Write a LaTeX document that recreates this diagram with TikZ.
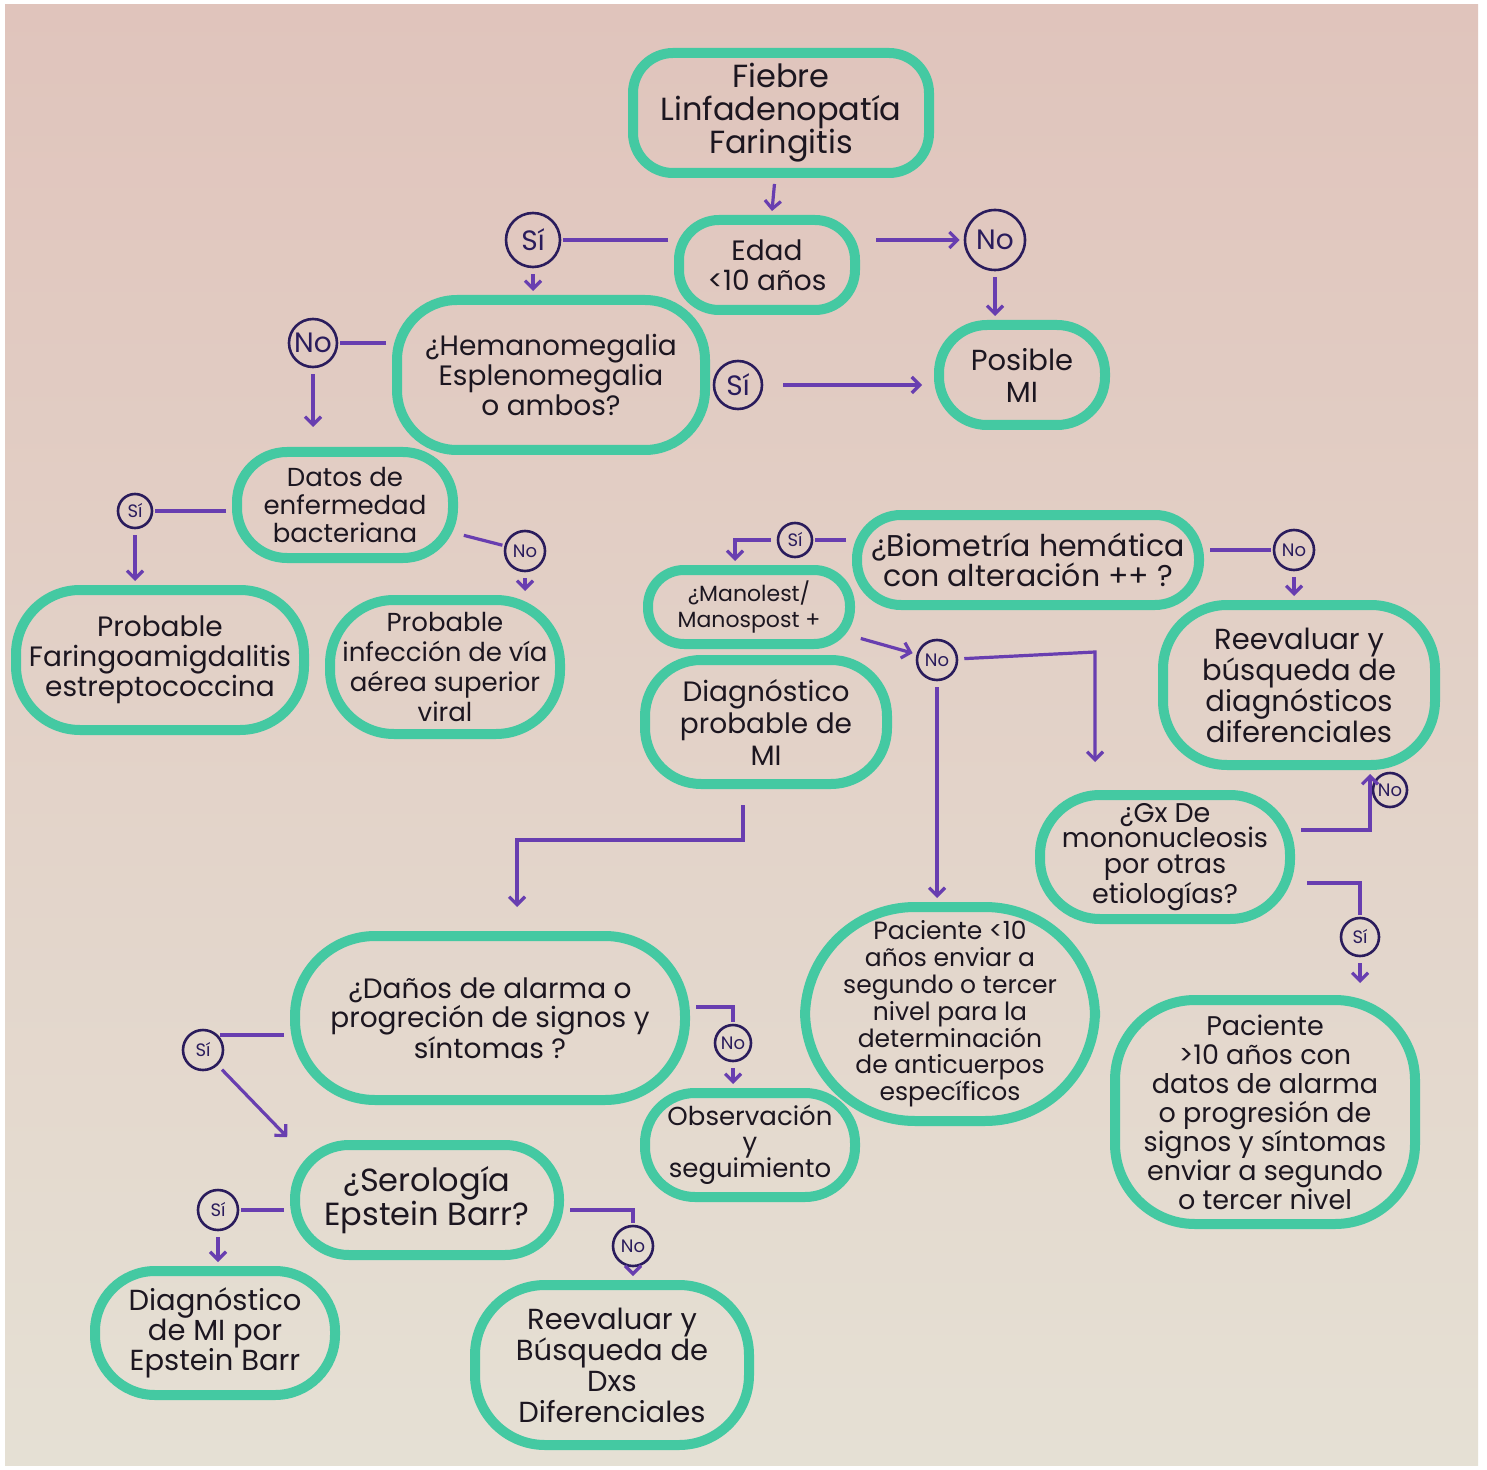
\documentclass[tikz,border=0pt]{standalone}
\usepackage{fontspec}
\setmainfont{Poppins}
\usepackage{tikz}
\usetikzlibrary{arrows.meta, positioning}

\definecolor{boxgreen}{RGB}{68,201,162}
\definecolor{ansblue}{RGB}{42,28,92}
\definecolor{arrpurple}{RGB}{104,62,176}
\definecolor{ink}{RGB}{28,22,32}
\definecolor{paperpink}{RGB}{224,196,188}
\definecolor{papermid}{RGB}{240,236,228}
\definecolor{paperlow}{RGB}{229,224,212}

\newcommand{\fs}[2]{\fontsize{#1}{#2}\selectfont}

\tikzset{
  box/.style={draw=boxgreen, line width=5pt, rounded corners=#1, align=center,
    inner sep=3pt, text=ink, font=\fs{14}{15}},
  box/.default=20pt,
  ans/.style={circle, draw=ansblue, line width=1.3pt, inner sep=0pt,
    minimum size=#1, text=ansblue, font=\fs{14}{14}},
  smallans/.style={ans=#1, font=\fs{9}{9}},
  arr/.style={draw=arrpurple, line width=1.6pt, shorten >=2pt, shorten <=3pt,
    -{Straight Barb[length=4pt, width=8pt]}},
  ln/.style={draw=arrpurple, line width=1.6pt, shorten <=3pt, shorten >=1pt}
}

\begin{document}
\begin{tikzpicture}[x=0.5pt, y=-0.5pt]
        \useasboundingbox (0, 0) rectangle (1487, 1470);
        \fill[white] (0, 0) rectangle (1487, 1470);
        \shade[top color=paperpink, middle color=papermid, bottom color=paperlow]
        (5, 5) rectangle (1478, 1465);

        \node[box, minimum width=148pt, minimum height=60pt, font=\fs{16}{16.5}] at (781, 113) (fiebre)
        {Fiebre\\Linfadenopatía\\Faringitis};
        \node[box, minimum width=88pt, minimum height=45pt] at (767, 265) (edad) {Edad\\<10 años};
        \node[ans=27pt] at (533, 240) (si1) {Sí};
        \node[ans=30pt] at (995, 240) (no1) {No};
        \node[box=30pt, minimum width=154pt, minimum height=75pt] at (551, 375) (hema)
        {¿Hemanomegalia\\Esplenomegalia\\o ambos?};
        \node[box=24pt, minimum width=83pt, minimum height=50pt, font=\fs{14.5}{16}] at (1022, 375) (posible)
        {Posible\\MI};
        \node[ans=24pt] at (738, 385) (si2) {Sí};
        \node[ans=24pt] at (313, 343) (no2) {No};

        \node[box=25pt, minimum width=108pt, minimum height=53pt, font=\fs{13}{14}] at (345, 505) (datos)
        {Datos de\\enfermedad\\bacteriana};
        \node[smallans=17pt] at (135, 511) (si3) {Sí};
        \node[smallans=20pt] at (525, 551) (no3) {No};
        \node[box=32pt, minimum width=144pt, minimum height=70pt] at (160, 660) (faringo)
        {Probable\\Faringoamigdalitis\\estreptococcina};
        \node[box=32pt, minimum width=115pt, minimum height=67pt, font=\fs{13}{15}] at (445, 667) (viral)
        {Probable\\infección de vía\\aérea superior\\viral};

        \node[box=22pt, minimum width=171pt, minimum height=45pt, font=\fs{15}{15}] at (1028, 560) (biometria)
        {¿Biometría hemática\\con alteración ++ ?};
        \node[smallans=17pt] at (795, 540) (si4) {Sí};
        \node[smallans=20pt] at (1294, 550) (no4) {No};
        \node[box=18pt, minimum width=101pt, minimum height=37pt, font=\fs{11}{13}] at (749, 607) (monotest)
        {¿Manolest/\\Manospost +};
        \node[smallans=20pt] at (937, 660) (no5) {No};
        \node[box=28pt, minimum width=121pt, minimum height=62pt, font=\fs{14}{16}] at (766, 722) (diagprob)
        {Diagnóstico\\probable de\\MI};
        \node[box=32pt, minimum width=136pt, minimum height=80pt, font=\fs{14.5}{15.5}] at (1299, 685) (reevalA)
        {Reevaluar y\\búsqueda de\\diagnósticos\\diferenciales};
        \node[box=30pt, minimum width=125pt, minimum height=62pt, font=\fs{13.5}{12.8}] at (1165, 857) (gx)
        {¿Gx De\\mononucleosis\\por otras\\etiologías?};
        \node[smallans=17pt] at (1390, 790) (no6) {No};
        \node[smallans=19pt] at (1360, 937) (si5) {Sí};
        \node[box=55pt, minimum width=145pt, minimum height=107pt, font=\fs{12.5}{13.4}] at (950, 1014) (pacA)
        {Paciente <10\\años enviar a\\segundo o tercer\\nivel para la\\determinación\\de anticuerpos\\específicos};
        \node[box=40pt, minimum width=150pt, minimum height=112pt, font=\fs{13.5}{14.5}] at (1265, 1112) (pacB)
        {Paciente\\>10 años con\\datos de alarma\\o progresión de\\signos y síntomas\\enviar a segundo\\o tercer nivel};

        \node[box=40pt, minimum width=195pt, minimum height=82pt, font=\fs{14}{14.5}] at (490, 1018) (danos)
        {¿Daños de alarma o\\progreción de signos y\\síntomas ?};
        \node[smallans=20pt] at (203, 1050) (si6) {Sí};
        \node[smallans=18pt] at (733, 1043) (no7) {No};
        \node[box=25pt, minimum width=105pt, minimum height=52pt, font=\fs{13}{15}] at (750, 1145) (observ)
        {Observación\\[-2pt]y\\[-2pt]seguimiento};
        \node[box=27pt, minimum width=132pt, minimum height=55pt, font=\fs{16}{17}] at (427, 1200) (serologia)
        {¿Serología\\Epstein Barr?};
        \node[smallans=20pt] at (218, 1210) (si7) {Sí};
        \node[smallans=20pt] at (633, 1246) (no8) {No};
        \node[box=30pt, minimum width=120pt, minimum height=62pt, font=\fs{14.5}{15}] at (215, 1333) (diagEB)
        {Diagnóstico\\de MI por\\Epstein Barr};
        \node[box=35pt, minimum width=137pt, minimum height=80pt, font=\fs{14.5}{15.5}] at (612, 1365) (reevalB)
        {Reevaluar y\\Búsqueda de\\Dxs\\Diferenciales};

        \coordinate (c1) at (735, 540);
        \coordinate (c2) at (1095, 652);
        \coordinate (c3) at (743, 840);
        \coordinate (c4) at (517, 840);
        \coordinate (c5) at (1370, 830);
        \coordinate (c6) at (1360, 883);
        \coordinate (c7) at (733, 1007);
        \coordinate (c8) at (633, 1210);

        \draw[arr] (fiebre) to (edad);
        \draw[ln] (si1 -| edad.west) to (si1);
        \draw[arr] (si1) to (si1 |- hema.north);
        \draw[arr, shorten <=8pt] (edad.east |- no1) to (no1);
        \draw[arr] (no1) to (no1 |- posible.north);
        \draw[arr, shorten <=10pt, shorten >=6pt] (si2) to (si2 -| posible.west);
        \draw[ln] (no2 -| hema.west) to (no2);
        \draw[arr, shorten >=10pt] (no2) to (no2 |- datos.north);

        \draw[ln] (si3 -| datos.west) to (si3);
        \draw[arr] (si3) to (si3 |- faringo.north);
        \draw[ln] (datos) to (no3);
        \draw[arr] (no3) to (no3 |- viral.north);

        \draw[ln] (si4 -| biometria.west) to (si4);
        \draw[arr] (si4) to (c1) to (c1 |- monotest.north);
        \draw[ln] (no4 -| biometria.east) to (no4);
        \draw[arr] (no4) to (no4 |- reevalA.north);
        \draw[arr] (monotest) to (no5);
        \draw[arr] (no5) to (no5 |- pacA.north);
        \draw[arr, shorten >=14pt] (no5) to (c2) to (c2 |- gx.north);
        \draw[arr, shorten <=8pt, shorten >=12pt] (diagprob.south -| c3) to (c3) to (c4) to (c4 |- danos.north);
        \draw[arr] (gx.east |- c5) to (c5) to (c5 |- reevalA.south);
        \draw[ln, shorten <=6pt] (gx.east |- c6) to (c6) to (si5);
        \draw[arr, shorten >=6pt] (si5) to (si5 |- pacB.north);

        \draw[ln] (danos.west |- si6.north east) to (si6.north east);
        \draw[arr] (si6) to (serologia.north west);
        \draw[ln] (danos.east |- c7) to (c7) to (no7);
        \draw[arr] (no7) to (no7 |- observ.north);
        \draw[ln] (si7 -| serologia.west) to (si7);
        \draw[arr] (si7) to (si7 |- diagEB.north);
        \draw[ln] (serologia.east |- c8) to (c8) to (no8);
        \draw[arr] (no8) to (no8 |- reevalB.north);
\end{tikzpicture}
\end{document}
